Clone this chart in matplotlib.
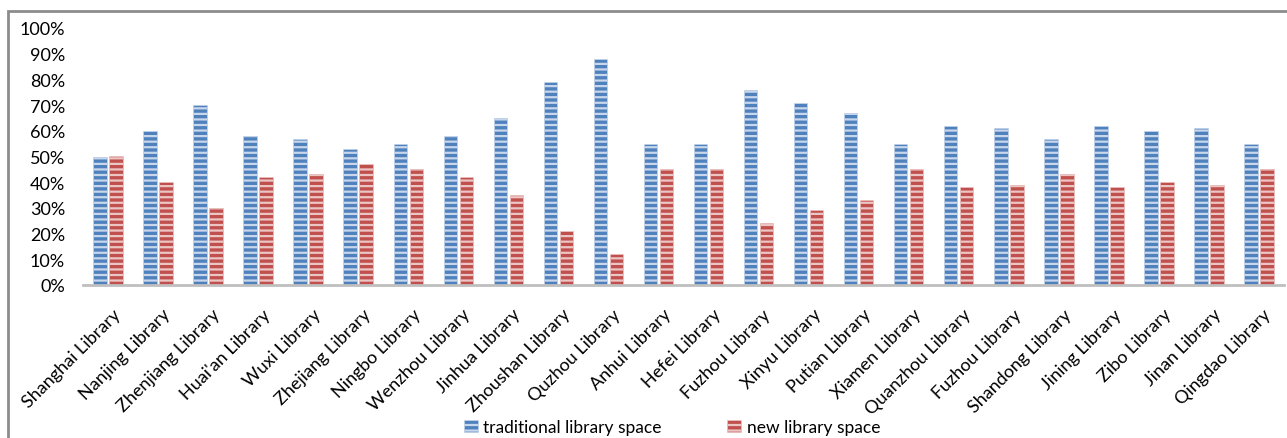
import matplotlib
matplotlib.use("Agg")
import matplotlib.pyplot as plt
import matplotlib.transforms as mtransforms
import numpy as np
from matplotlib.patches import Rectangle

categories = ["Shanghai Library", "Nanjing Library", "Zhenjiang Library", "Huai'an Library",
              "Wuxi Library", "Zhejiang Library", "Ningbo Library", "Wenzhou Library",
              "Jinhua Library", "Zhoushan Library", "Quzhou Library", "Anhui Library",
              "Hefei Library", "Fuzhou Library", "Xinyu Library", "Putian Library",
              "Xiamen Library", "Quanzhou Library", "Fuzhou Library", "Shandong Library",
              "Jining Library", "Zibo Library", "Jinan Library", "Qingdao Library"]
traditional = [50, 60, 70, 58, 57, 53, 55, 58, 65, 79, 88, 55, 55, 76, 71, 67, 55, 62, 61, 57, 62, 60, 61, 55]
new_space = [50.3, 40, 30, 42, 43, 47, 45, 42, 35, 21, 12, 45, 45, 24, 29, 33, 45, 38, 39, 43, 38, 40, 39, 45]
yticks = [0, 10, 20, 30, 40, 50, 60, 70, 80, 90, 100]

plt.rcParams['font.family'] = ['Lato', 'DejaVu Sans']
plt.rcParams['hatch.linewidth'] = 1.6

W, H = 1287, 439
fig = plt.figure(figsize=(W/100, H/100), dpi=100)
ax = fig.add_axes([83/W, 1-286/H, (1284-83)/W, (286-29)/H])

x = np.arange(len(categories))
bw = 0.27
off = 0.16
b1 = ax.bar(x - off, traditional, bw, color='#4F81BD', edgecolor='#c8d7ec', linewidth=0.4,
            hatch='---', label='traditional library space')
b2 = ax.bar(x + off, new_space, bw, color='#C0504D', edgecolor='#ecc6c5', linewidth=0.4,
            hatch='---', label='new library space')

ax.set_xlim(-0.5, len(categories) - 0.5)
ax.set_ylim(0, 100)
ax.set_yticks(yticks)
ax.set_yticklabels([f"{v}%" for v in yticks], fontsize=13)
ax.set_xticks(x)
ax.set_xticklabels(categories, rotation=45, ha='right', va='top', rotation_mode='anchor', fontsize=13)
ax.tick_params(axis='both', length=0)
ax.tick_params(axis='y', pad=13)
ax.tick_params(axis='x', pad=15)
shift = mtransforms.ScaledTranslation(4/100, 0, fig.dpi_scale_trans)
for lbl in ax.get_xticklabels():
    lbl.set_transform(lbl.get_transform() + shift)
for s in ['top', 'right', 'left']:
    ax.spines[s].set_visible(False)
ax.spines['bottom'].set_color('#BFBFBF')
ax.spines['bottom'].set_linewidth(2)

leg = fig.legend(handles=[b1, b2], loc='center', bbox_to_anchor=(672/W, 1-428/H), ncol=2,
                 frameon=False, fontsize=12.5, handlelength=0.8, handleheight=0.65,
                 columnspacing=3.8, handletextpad=0.3)

fig.patches.append(Rectangle((8/W, -0.05), 1.1, 1-12/H+0.05, transform=fig.transFigure,
                             fill=False, edgecolor='#8c8c8c', linewidth=2))

fig.savefig("out.png", dpi=100)
